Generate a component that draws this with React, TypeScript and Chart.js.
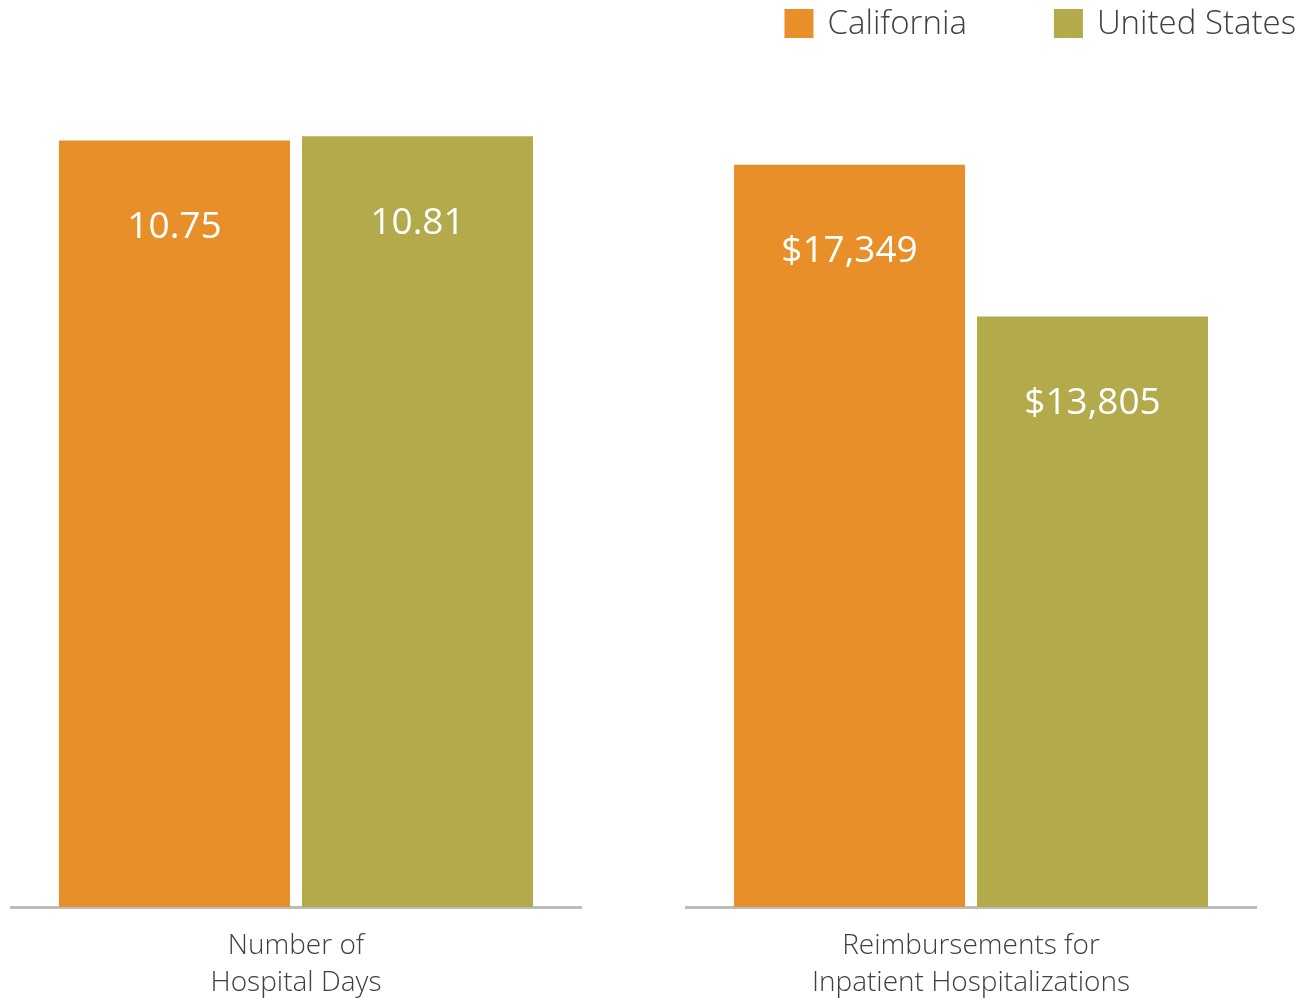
import React, { useEffect, useRef } from "react";
import { Chart, registerables } from "chart.js";

Chart.register(...registerables);

// ---- data ----
const seriesLabels = ["California", "United States"];
const seriesColors = ["#E98F2A", "#B3AB4B"];
const daysCategory = ["Number of", "Hospital Days"];
const reimbCategory = ["Reimbursements for", "Inpatient Hospitalizations"];
const hospitalDays = [10.75, 10.81];
const reimbursements = [17349, 13805];
const daysAxisMax = 12.72;
const reimbAxisMax = 21200;

const FONT = "'Open Sans', 'Noto Sans', sans-serif";
const TEXT_COLOR = "#404040";

const valueLabelPlugin = {
  id: "valueLabels",
  afterDatasetsDraw(chart: any, _args: any, opts: any) {
    const ctx = chart.ctx;
    ctx.save();
    ctx.font = `${opts.weight} ${opts.size}px ${FONT}`;
    ctx.fillStyle = "#ffffff";
    ctx.textAlign = "center";
    ctx.textBaseline = "middle";
    chart.data.datasets.forEach((ds: any, di: number) => {
      const meta = chart.getDatasetMeta(di);
      meta.data.forEach((bar: any, i: number) => {
        const v = ds.data[i];
        ctx.fillText(opts.format(v), bar.x, bar.y + opts.offset);
      });
    });
    ctx.restore();
  },
};

const topLegendPlugin = {
  id: "topLegend",
  afterDraw(chart: any, _args: any, opts: any) {
    if (!opts || !opts.show) return;
    const ctx = chart.ctx;
    ctx.save();
    ctx.font = `${opts.weight} ${opts.size}px ${FONT}`;
    ctx.textAlign = "left";
    ctx.textBaseline = "middle";
    const items = chart.data.datasets.map((ds: any) => ({
      text: ds.label,
      color: ds.backgroundColor,
    }));
    const widths = items.map(
      (it: any) => opts.box + opts.boxGap + ctx.measureText(it.text).width
    );
    const total =
      widths.reduce((a: number, b: number) => a + b, 0) +
      opts.itemGap * (items.length - 1);
    let x = opts.right - total;
    items.forEach((it: any, k: number) => {
      ctx.fillStyle = it.color;
      ctx.fillRect(x, opts.top, opts.box, opts.box);
      ctx.fillStyle = TEXT_COLOR;
      ctx.fillText(it.text, x + opts.box + opts.boxGap, opts.top + opts.box / 2 + 1);
      x += widths[k] + opts.itemGap;
    });
    ctx.restore();
  },
};

type PanelProps = {
  category: string[];
  values: number[];
  max: number;
  format: (v: number) => string;
  left: number;
  width: number;
  padLeft: number;
  padRight: number;
  legend: boolean;
};

function ChartPanel(p: PanelProps) {
  const ref = useRef<HTMLCanvasElement | null>(null);
  useEffect(() => {
    if (!ref.current) return;
    const chart = new Chart(ref.current, {
      type: "bar",
      data: {
        labels: [p.category],
        datasets: seriesLabels.map((lab, k) => ({
          label: lab,
          data: [p.values[k]],
          backgroundColor: seriesColors[k],
          borderWidth: 0,
          categoryPercentage: 0.8526,
          barPercentage: 0.9506,
        })),
      } as any,
      options: {
        responsive: false,
        animation: false,
        layout: { padding: { left: p.padLeft, right: p.padRight, top: 0, bottom: 0 } },
        scales: {
          x: {
            grid: { display: false, drawTicks: false },
            border: { display: true, color: "#BDBDBD", width: 3 },
            ticks: {
              color: TEXT_COLOR,
              font: { family: FONT, size: 28, weight: "300", lineHeight: 37 / 28 } as any,
              padding: 21,
              maxRotation: 0,
            },
            afterFit: (scale: any) => {
              scale.height = 91;
            },
          },
          y: {
            display: false,
            min: 0,
            max: p.max,
          },
        },
        plugins: {
          legend: { display: false },
          tooltip: { enabled: false },
          valueLabels: { size: 37, weight: "400", offset: 87, format: p.format },
          topLegend: {
            show: p.legend,
            size: 33,
            weight: "300",
            box: 29,
            boxGap: 14,
            itemGap: 87,
            top: 9,
            right: 646,
          },
        } as any,
      },
      plugins: [valueLabelPlugin, topLegendPlugin],
    });
    return () => chart.destroy();
  }, []);
  return (
    <div style={{ position: "absolute", left: p.left, top: 0, width: p.width, height: 998 }}>
      <canvas ref={ref} width={p.width} height={998} style={{ display: "block" }} />
    </div>
  );
}

export default function App() {
  return (
    <div
      style={{
        position: "absolute",
        left: 0,
        top: 0,
        width: 1300,
        height: 998,
        background: "#ffffff",
        overflow: "hidden",
      }}
    >
      <ChartPanel
        category={daysCategory}
        values={hospitalDays}
        max={daysAxisMax}
        format={(v) => v.toFixed(2)}
        left={0}
        width={650}
        padLeft={11}
        padRight={69}
        legend={false}
      />
      <ChartPanel
        category={reimbCategory}
        values={reimbursements}
        max={reimbAxisMax}
        format={(v) => "$" + v.toLocaleString("en-US")}
        left={650}
        width={650}
        padLeft={36}
        padRight={44}
        legend={true}
      />
    </div>
  );
}
